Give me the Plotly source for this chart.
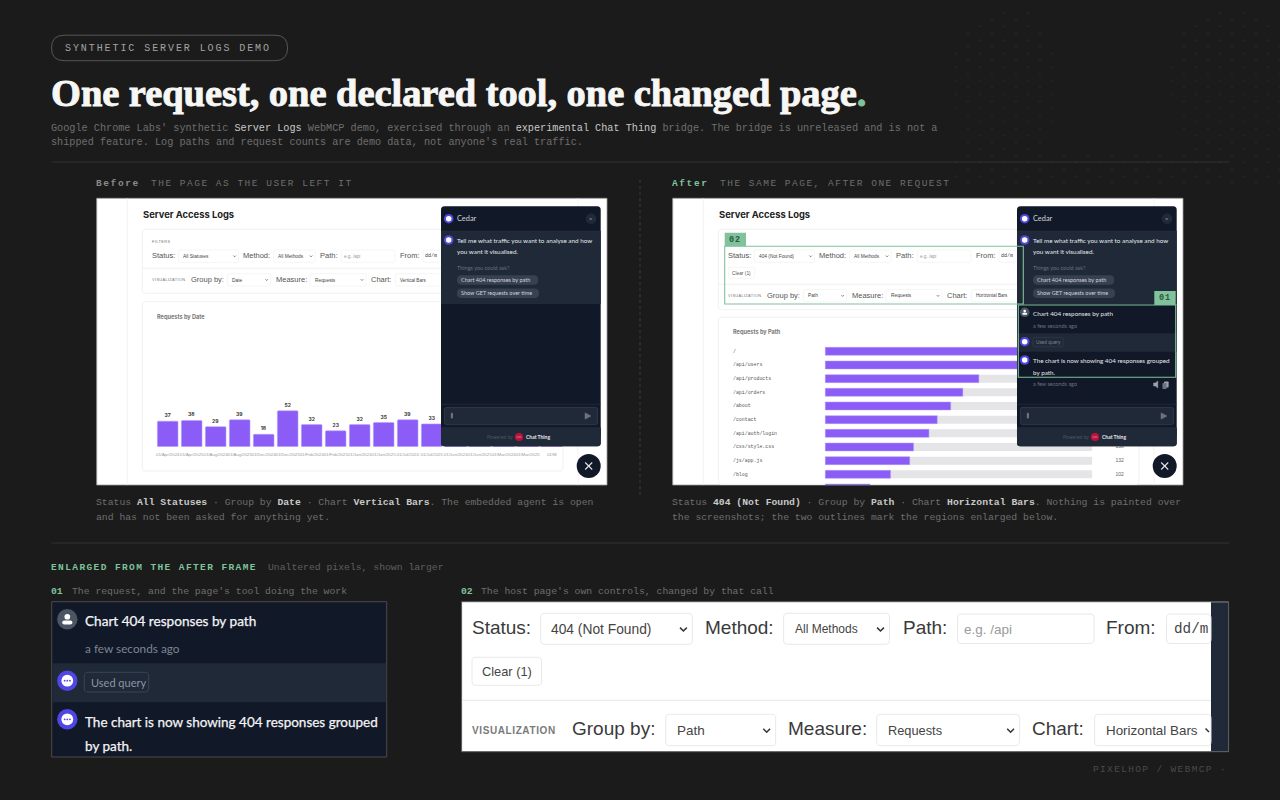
import plotly.graph_objects as go

DATES = ["01/Apr/2024", "01/Apr/2025", "01/Aug/2024", "01/Aug/2025", "01/Dec/2024", "01/Dec/2025",
         "01/Feb/2024", "01/Feb/2025", "01/Jan/2024", "01/Jan/2025", "01/Jul/2024", "01/Jul/2025",
         "01/Jun/2024", "01/Jun/2025", "01/Mar/2024", "01/Mar/2025", "01/M"]
# the last five sit behind the chat panel, estimated
DATE_REQUESTS = [37, 38, 29, 39, 18, 52, 32, 23, 32, 35, 39, 33, 34, 31, 30, 37, 33]
DATE_LABELS = [37, 38, 29, 39, 18, 52, 32, 23, 32, 35, 39, 33]

PATHS = ["/", "/api/users", "/api/products", "/api/orders", "/about", "/contact",
         "/api/auth/login", "/css/style.css", "/js/app.js", "/blog", "/docs"]
PATH_REQUESTS = [417, 345, 240, 215, 196, 175, 162, 138, 132, 102, 70]
# only these counts show, the others are under the chat panel
PATH_LABELS = ["", "", "", "", "", "", "", 138, 132, 102, ""]

BG = "#1b1b1b"
GREEN = "#7fc29b"
NAVY = "#111827"
SLATE = "#1f2937"
PURPLE = "#8b5cf6"
MONO = "Liberation Mono"
SANS = "Liberation Sans"
CHAT = "Lato"

shapes = []
notes = []


def px(x):
    return round(x / 1280, 5)


def py(y):
    return round(1 - y / 800, 5)


def rect(x0, y0, x1, y1, fill="rgba(0,0,0,0)", line=None, lw=1, r=0, layer="above"):
    x_0, x_1, y_0, y_1 = px(x0), px(x1), py(y0), py(y1)
    rx, ry = r / 1280, r / 800
    d = (f"M{x_0 + rx:.5f},{y_0:.5f} L{x_1 - rx:.5f},{y_0:.5f} Q{x_1:.5f},{y_0:.5f} {x_1:.5f},{y_0 - ry:.5f} "
         f"L{x_1:.5f},{y_1 + ry:.5f} Q{x_1:.5f},{y_1:.5f} {x_1 - rx:.5f},{y_1:.5f} "
         f"L{x_0 + rx:.5f},{y_1:.5f} Q{x_0:.5f},{y_1:.5f} {x_0:.5f},{y_1 + ry:.5f} "
         f"L{x_0:.5f},{y_0 - ry:.5f} Q{x_0:.5f},{y_0:.5f} {x_0 + rx:.5f},{y_0:.5f} Z")
    shapes.append(dict(type="path", path=d, xref="paper", yref="paper", fillcolor=fill, layer=layer,
                       line=dict(color=line or "rgba(0,0,0,0)", width=lw if line else 0)))


def hline(x0, x1, y, color, lw=1, layer="above", dash="solid"):
    shapes.append(dict(type="line", xref="paper", yref="paper", x0=px(x0), x1=px(x1), y0=py(y), y1=py(y),
                       layer=layer, line=dict(color=color, width=lw, dash=dash)))


def vline(x, y0, y1, color, lw=1, layer="above", dash="solid"):
    shapes.append(dict(type="line", xref="paper", yref="paper", x0=px(x), x1=px(x), y0=py(y0), y1=py(y1),
                       layer=layer, line=dict(color=color, width=lw, dash=dash)))


def circle(cx, cy, r, fill, layer="above"):
    shapes.append(dict(type="circle", xref="paper", yref="paper", x0=px(cx - r), x1=px(cx + r),
                       y0=py(cy + r), y1=py(cy - r), fillcolor=fill, layer=layer, line=dict(width=0)))


def stroke(points, color, lw=1, layer="above", fill=None):
    d = "M" + " L".join(f"{px(a)},{py(b)}" for a, b in points)
    if fill:
        d += " Z"
    shapes.append(dict(type="path", path=d, xref="paper", yref="paper", layer=layer,
                       fillcolor=fill or "rgba(0,0,0,0)", line=dict(color=color, width=lw)))


def chevron(cx, cy, s, color="#333333", lw=1.0):
    stroke([(cx - s, cy - s * 0.5), (cx, cy + s * 0.5), (cx + s, cy - s * 0.5)], color, lw)


def text(x, y, s, size, color, font=MONO, bold=False, sp=0, thick=0):
    css = ""
    if sp:
        css += f"letter-spacing:{sp}px;"
    if thick:
        css += f"stroke:{color};stroke-width:{thick}px;"
    if css:
        s = f"<span style='{css}'>{s}</span>"
    if bold:
        s = f"<b>{s}</b>"
    notes.append(dict(x=px(x), y=py(y), xref="paper", yref="paper", text=s, showarrow=False, xanchor="left",
                      yanchor="middle", align="left", borderpad=0, borderwidth=0,
                      font=dict(size=size, color=color, family=font)))


def chat_icon(cx, cy, r, fill="#4f46e5"):
    circle(cx, cy, r, fill)
    circle(cx, cy, r * 0.58, "#ffffff")
    if r > 7:
        for k in (-1, 0, 1):
            circle(cx + k * r * 0.26, cy, r * 0.09, fill)


def user_icon(cx, cy, r):
    circle(cx, cy, r, "#4b5563")
    circle(cx, cy - r * 0.25, r * 0.28, "#ffffff")
    rect(cx - r * 0.5, cy + r * 0.12, cx + r * 0.5, cy + r * 0.52, fill="#ffffff", r=r * 0.2)


def control_row(dx, y, items):
    # label / select pairs for the small host page
    for lab, lx, x0, x1, val, vx, kind in items:
        text(dx + lx, y, lab, 7.5, "#555555", SANS)
        rect(dx + x0, y - 6, dx + x1, y + 6.3, fill="#ffffff", line="#efefef", lw=0.6, r=1.5, layer="below")
        if kind == "input":
            text(dx + vx, y + 0.3, val, 4.6, "#9a9a9a", SANS)
        elif kind == "date":
            text(dx + vx, y + 0.3, val, 5, "#444444", MONO)
        elif kind == "chart":
            text(dx + vx, y + 0.3, val, 4.6, "#444444", SANS)
        else:
            text(dx + vx, y + 0.3, val, 4.8, "#444444", SANS)
            chevron(dx + x1 - 4, y + 0.2, 1.2, "#444444", 0.7)


def frame(dx, after):
    rect(dx + 96.7, 198.3, dx + 607, 485, fill="#ffffff", line="#9c9c9c", lw=0.8, layer="below")
    vline(dx + 127.3, 198.3, 485, "#efefef", 0.8, layer="below")
    vline(dx + 578, 198.3, 485, "#f1f1f1", 0.8, layer="below")
    text(dx + 142.6, 214.6, "Server Access Logs", 9.4, "#222222", "Inter", bold=True)

    card_bot = 309.7 if after else 293.3
    rect(dx + 142.3, 229.3, dx + 563, card_bot, fill="#ffffff", line="#eeeeee", lw=0.8, r=3, layer="below")
    hline(dx + 142.3, dx + 563, 284.3 if after else 268.3, "#eeeeee", 0.8, layer="below")
    if not after:
        text(dx + 152, 241.6, "FILTERS", 3.9, "#777777", SANS, sp=0.4)

    control_row(dx, 256, [
        ("Status:", 152, 178.3, 238.7, "404 (Not Found)" if after else "All Statuses", 183, "select"),
        ("Method:", 243, 273.7, 315, "All Methods", 278, "select"),
        ("Path:", 320, 341.7, 395, "e.g. /api", 344, "input"),
        ("From:", 400, 423, 470, "dd/m", 425, "date"),
    ])
    if after:
        rect(dx + 152.3, 267.3, dx + 178.7, 278.3, fill="#ffffff", line="#efefef", lw=0.6, r=1.5, layer="below")
        text(dx + 156.3, 273, "Clear (1)", 4.8, "#555555", SANS)

    vy = 295.6 if after else 279.7
    text(dx + 152, vy, "VISUALIZATION", 3.9, "#777777", SANS, sp=0.35)
    control_row(dx, vy, [
        ("Group by:", 191, 227.3, 270.7, "Path" if after else "Date", 232, "select"),
        ("Measure:", 275.7, 310, 366, "Requests", 314.6, "select"),
        ("Chart:", 371, 395.3, 470, "Horizontal Bars" if after else "Vertical Bars", 399.5, "chart"),
    ])

    card_top = 317.3 if after else 301.7
    card_end = 490 if after else 471
    rect(dx + 142.3, card_top, dx + 563, min(card_end, 484.4), fill="#ffffff", line="#eeeeee", lw=0.8, r=3, layer="below")
    text(dx + 157, card_top + 15.5, "Requests by Path" if after else "Requests by Date", 5.6, "#777777", "Inter", bold=True)


def panel(dx, after):
    x0, x1 = dx + 441, dx + 600.7
    rect(x0, 206.3, x1, 446.2, fill=NAVY, r=3.5)
    rect(x0, 231, x1, 304, fill=SLATE)
    hline(x0, x1, 231, "#2a3444", 0.6)
    hline(x0, x1, 404.3, "#2a3444", 0.6)
    rect(x0, 427.3, x1, 446.2, fill=SLATE, r=3)
    rect(x0, 427.3, x1, 436, fill=SLATE)

    chat_icon(dx + 448.7, 218.7, 4.8)
    text(dx + 457, 218.8, "Cedar", 7.4, "#d1d5db", CHAT)
    circle(dx + 591, 218.7, 5.4, SLATE)
    text(dx + 589.4, 218.7, "×", 6, "#9ca3af", CHAT)

    chat_icon(dx + 448.7, 240, 4.8)
    text(dx + 457, 240.8, "Tell me what traffic you want to analyse and how", 6.35, "#e5e7eb", CHAT)
    text(dx + 457, 252, "you want it visualised.", 6.35, "#e5e7eb", CHAT)
    text(dx + 457, 267.6, "Things you could ask?", 5.5, "#6b7280", CHAT)
    rect(dx + 457, 275.3, dx + 538.3, 284.7, fill="#374151", r=4.6)
    text(dx + 461.3, 280.1, "Chart 404 responses by path", 5.5, "#d1d5db", CHAT)
    rect(dx + 457, 288.4, dx + 539, 298, fill="#374151", r=4.6)
    text(dx + 461.3, 293.3, "Show GET requests over time", 5.5, "#d1d5db", CHAT)

    if after:
        rect(x0, 305, x1, 333, fill=NAVY)
        user_icon(dx + 448.7, 312.3, 4.8)
        text(dx + 457, 313.5, "Chart 404 responses by path", 6.35, "#e5e7eb", CHAT)
        text(dx + 457, 326, "a few seconds ago", 5.5, "#6b7280", CHAT)
        rect(x0, 333.3, x1, 351.7, fill=SLATE)
        chat_icon(dx + 448.7, 341.7, 4.8)
        rect(dx + 457, 337.3, dx + 487.3, 346.7, fill=SLATE, line="#374151", lw=0.6, r=2)
        text(dx + 460, 342.1, "Used query", 4.9, "#7b8494", CHAT)
        chat_icon(dx + 448.7, 360, 4.8)
        text(dx + 457, 360.8, "The chart is now showing 404 responses grouped", 6.3, "#e5e7eb", CHAT)
        text(dx + 457, 372, "by path.", 6.3, "#e5e7eb", CHAT)
        text(dx + 457, 384.4, "a few seconds ago", 5.5, "#6b7280", CHAT)
        stroke([(dx + 577.6, 383), (dx + 579.4, 383), (dx + 581.8, 381), (dx + 581.8, 388), (dx + 579.4, 386), (dx + 577.6, 386)],
               "#9ca3af", 0.5, fill="#9ca3af")
        rect(dx + 588, 381.4, dx + 592.6, 387.6, fill="#9ca3af", r=0.8)
        rect(dx + 586.4, 383, dx + 590.6, 389, fill="#6b7280", r=0.8)

    rect(dx + 444.3, 407.3, dx + 597.7, 424.7, fill=SLATE, line="#374151", lw=0.7, r=2.5)
    rect(dx + 450.8, 412.8, dx + 453, 418.4, fill="#6b7280", r=1)
    stroke([(dx + 585, 412.8), (dx + 591, 416), (dx + 585, 419.2)], "#6b7280", 0.5, fill="#6b7280")
    text(dx + 486.7, 437.3, "Powered by", 5, "#4b5563", CHAT)
    circle(dx + 519, 437, 4.1, "#be123c")
    hline(dx + 516.5, dx + 521.5, 437, "#fecdd3", 0.5)
    text(dx + 526.2, 437.3, "Chat Thing", 5, "#e5e7eb", CHAT, bold=True)

    circle(dx + 588.7, 466, 12, NAVY)
    stroke([(dx + 585.2, 462.5), (dx + 592.2, 469.5)], "#e5e7eb", 1.1)
    stroke([(dx + 592.2, 462.5), (dx + 585.2, 469.5)], "#e5e7eb", 1.1)


# faint plus texture, top right corner
texture = []
for col in range(28):
    for row in range(13):
        tx = 956 + col * 12
        ty = 13 + row * 13.6 + (6.8 if col % 2 else 0)
        left = ((tx - 1005) / 55) ** 2 + ((ty - 85) / 80) ** 2 < 1
        right = ((tx - 1230) / 60) ** 2 + ((ty - 85) / 85) ** 2 < 1
        if left or right or ty > 150:
            texture.append(f"M{px(tx - 1.5)},{py(ty)} L{px(tx + 1.5)},{py(ty)} M{px(tx)},{py(ty - 1.5)} L{px(tx)},{py(ty + 1.5)}")
shapes.append(dict(type="path", path=" ".join(texture), xref="paper", yref="paper", layer="below",
                   line=dict(color="#252525", width=1)))

# header
rect(51.5, 35.2, 287.6, 60.7, line="#565656", lw=1, r=12.7, layer="below")
text(65.5, 48, "SYNTHETIC SERVER LOGS DEMO", 10, "#a3a3a3", MONO, sp=1.92)
text(51, 93, f"One request, one declared tool, one changed page<span style='fill:{GREEN};stroke:{GREEN}'>.</span>", 38.5, "#f7f7f5",
     "Liberation Serif", bold=True, sp=-0.05, thick=0.9)
H = "#c9c9c9"
text(51.5, 128, f"Google Chrome Labs' synthetic <span style='color:{H}'>Server Logs</span> WebMCP demo, exercised through an "
     f"<span style='color:{H}'>experimental Chat Thing</span> bridge. The bridge is unreleased and is not a", 10.2, "#6e6e6e")
text(51.5, 142.5, "shipped feature. Log paths and request counts are demo data, not anyone's real traffic.", 10.2, "#6e6e6e")
hline(51.5, 1229, 162, "#333333")
hline(51.5, 1229, 543, "#333333")
vline(640, 180, 496, "#3c3c3c", 1, dash="dot")

text(96.5, 183, "Before", 9.5, "#8a8a8a", MONO, bold=True, sp=1.6)
text(151, 183, "THE PAGE AS THE USER LEFT IT", 9.5, "#6e6e6e", MONO, sp=1.5)
text(672.5, 183, "After", 9.5, GREEN, MONO, bold=True, sp=1.6)
text(720, 183, "THE SAME PAGE, AFTER ONE REQUEST", 9.5, "#6e6e6e", MONO, sp=1.5)

# the two screenshots
frame(0, False)
frame(576, True)
panel(0, False)
panel(576, True)

# outlines on the after frame
rect(724.7, 232.7, 746, 246.3, fill=GREEN)
text(729.5, 239.8, "02", 8.5, "#2b5a41", MONO, bold=True, sp=1)
rect(724.7, 246.3, 1023.3, 304, line=GREEN, lw=1.1)
rect(1154.3, 291, 1175.7, 305, fill=GREEN)
text(1158.8, 298, "01", 8.5, "#2b5a41", MONO, bold=True, sp=1)
rect(1018.3, 305, 1175.7, 377.3, line=GREEN, lw=1.1)

C = "#c9c9c9"
G = "#6e6e6e"
text(96.5, 502.7, f"Status <b><span style='color:{C}'>All Statuses</span></b> · Group by <b><span style='color:{C}'>Date</span></b> · "
     f"Chart <b><span style='color:{C}'>Vertical Bars</span></b>. The embedded agent is open", 9.75, G)
text(96.5, 517, "and has not been asked for anything yet.", 9.75, G)
text(672.5, 502.7, f"Status <b><span style='color:{C}'>404 (Not Found)</span></b> · Group by <b><span style='color:{C}'>Path</span></b> · "
     f"Chart <b><span style='color:{C}'>Horizontal Bars</span></b>. Nothing is painted over", 9.75, G)
text(672.5, 517, "the screenshots; the two outlines mark the regions enlarged below.", 9.75, G)

text(51.5, 567.5, "ENLARGED FROM THE AFTER FRAME", 9.5, GREEN, MONO, bold=True, sp=1.4)
text(268, 567.5, "Unaltered pixels, shown larger", 9.75, "#5f5f5f")
text(51.5, 591, "01", 9.75, GREEN, MONO, bold=True)
text(72, 591, "The request, and the page's tool doing the work", 9.75, G)
text(461, 591, "02", 9.75, GREEN, MONO, bold=True)
text(481, 591, "The host page's own controls, changed by that call", 9.75, G)
text(1093, 769, "PIXELHOP / WEBMCP ·", 9.5, "#4a4a4a", MONO, sp=1.35)

# enlarged 01
rect(51.7, 601.7, 386.7, 757, fill=NAVY, line="#4a4a4a", lw=1)
rect(52.2, 663.3, 386.2, 702.3, fill=SLATE)
user_icon(67.3, 619.3, 10.2)
text(84.7, 621.5, "Chart 404 responses by path", 13.6, "#f3f4f6", CHAT, thick=0.25)
text(84.7, 648.8, "a few seconds ago", 11.8, "#7d8593", CHAT)
chat_icon(67.3, 680.7, 10.2)
rect(84.3, 672.3, 148.7, 692, fill=SLATE, line="#3b4656", lw=1, r=4)
text(91, 682.3, "Used query", 11, "#8b95a5", CHAT)
chat_icon(67.3, 719.3, 10.2)
text(84.7, 722, "The chart is now showing 404 responses grouped", 13.5, "#f3f4f6", CHAT, thick=0.25)
text(84.7, 746, "by path.", 13.5, "#f3f4f6", CHAT, thick=0.25)

# enlarged 02
rect(461.6, 601.7, 1228.6, 751.7, fill="#ffffff", line="#5a5a5a", lw=1)
rect(1211, 602.2, 1228.1, 751.2, fill=SLATE)
hline(462, 1211, 700.3, "#e5e7eb")


def big_control(lab, lx, x0, x1, y0, y1, val, vx, size=14.3, fam=SANS, col="#444444", chev=True):
    ym = (y0 + y1) / 2
    text(lx, ym - 1.7, lab, 19, "#3a3a3a", SANS)
    rect(x0, y0, x1, y1, fill="#ffffff", line="#e8e8e8", lw=1, r=4)
    text(vx, ym + 0.5, val, size, col, fam)
    if chev:
        chevron(x1 - 9, ym + 0.5, 3.4, "#333333", 1.5)


big_control("Status:", 471.5, 540.7, 692.4, 613.3, 644.3, "404 (Not Found)", 551, size=13.8)
big_control("Method:", 705, 783.6, 889.5, 613.3, 644.3, "All Methods", 795, size=12)
big_control("Path:", 903, 957.5, 1094, 614, 643.5, "e.g. /api", 964, size=13.5, col="#9a9a9a", chev=False)
big_control("From:", 1106.5, 1166.5, 1211, 614, 643.5, "dd/m", 1174, fam=MONO, chev=False)
rect(472, 657.3, 541.5, 685.3, fill="#ffffff", line="#e8e8e8", lw=1, r=4)
text(482, 671.3, "Clear (1)", 12.8, "#444444", SANS)
text(471.5, 730.5, "VISUALIZATION", 10, "#7a7a7a", SANS, bold=True, sp=0.6)
big_control("Group by:", 572, 665.7, 775.7, 714.3, 745.7, "Path", 676.6, size=13.5)
big_control("Measure:", 788, 876.7, 1019.6, 714.3, 745.7, "Requests", 888, size=12.8)
big_control("Chart:", 1032.5, 1094.6, 1211, 714.3, 745.7, "Horizontal Bars", 1106, size=13.4, chev=False)
stroke([(1205.5, 728.5), (1209, 732)], "#333333", 1.5)

fig = go.Figure()

# vertical bars, before frame
fig.add_trace(go.Bar(x=DATES, y=DATE_REQUESTS, xaxis="x", yaxis="y",
                     marker=dict(color=PURPLE, cornerradius=1, line=dict(color="#b7a0fb", width=0.6)),
                     text=DATE_LABELS + [""] * (len(DATES) - len(DATE_LABELS)), textposition="outside",
                     constraintext="none", cliponaxis=False,
                     textfont=dict(size=5, color="#333333", family="Inter", weight=700),
                     hoverinfo="skip", showlegend=False))

# horizontal bars, after frame
fig.add_trace(go.Bar(y=PATHS, x=[max(PATH_REQUESTS)] * len(PATHS), orientation="h", xaxis="x2", yaxis="y2",
                     marker=dict(color="#e5e5e7", cornerradius=1, line=dict(width=0)), hoverinfo="skip", showlegend=False))
fig.add_trace(go.Bar(y=PATHS, x=PATH_REQUESTS, orientation="h", xaxis="x2", yaxis="y2",
                     marker=dict(color=PURPLE, cornerradius=1, line=dict(color="#b7a0fb", width=0.5)),
                     hoverinfo="skip", showlegend=False))
fig.add_trace(go.Scatter(y=PATHS, x=[-144.2] * len(PATHS), mode="text", text=PATHS, textposition="middle right",
                         xaxis="x2", yaxis="y2", textfont=dict(size=4.9, color="#555555", family=MONO),
                         hoverinfo="skip", showlegend=False))
fig.add_trace(go.Scatter(y=PATHS, x=[460] * len(PATHS), mode="text", text=PATH_LABELS, textposition="middle center",
                         xaxis="x2", yaxis="y2", textfont=dict(size=5, color="#666666", family=SANS),
                         hoverinfo="skip", showlegend=False))

fig.update_layout(
    width=1280, height=800, margin=dict(l=0, r=0, t=0, b=0), autosize=False,
    paper_bgcolor=BG, plot_bgcolor="rgba(0,0,0,0)",
    barmode="overlay", shapes=shapes, annotations=notes,
    xaxis=dict(domain=[px(155.7), px(563.7)], range=[-0.5, 16.5], type="category", categoryorder="array",
               categoryarray=DATES, anchor="y", showgrid=False, zeroline=False, showline=False, ticks="",
               tickangle=0, dtick=1, tickfont=dict(size=4.3, color="#9a9a9a", family=SANS), ticklabelstandoff=4),
    yaxis=dict(domain=[py(446.7), py(330)], range=[0, 169], anchor="x", visible=False),
    xaxis2=dict(domain=[px(733), px(1135)], range=[-144.2, 484], anchor="y2", visible=False),
    yaxis2=dict(domain=[py(485), py(344)], range=[9.78, -0.534], type="category", categoryorder="array",
                categoryarray=PATHS, anchor="x2", visible=False),
)
fig.update_traces(width=0.86, selector=dict(xaxis="x"))
fig.update_traces(width=0.585, selector=dict(xaxis="x2", type="bar"))

fig.write_html("out.html", config=dict(displayModeBar=False),
               post_script="document.body.style.margin='0';document.body.style.background='#1b1b1b';")
